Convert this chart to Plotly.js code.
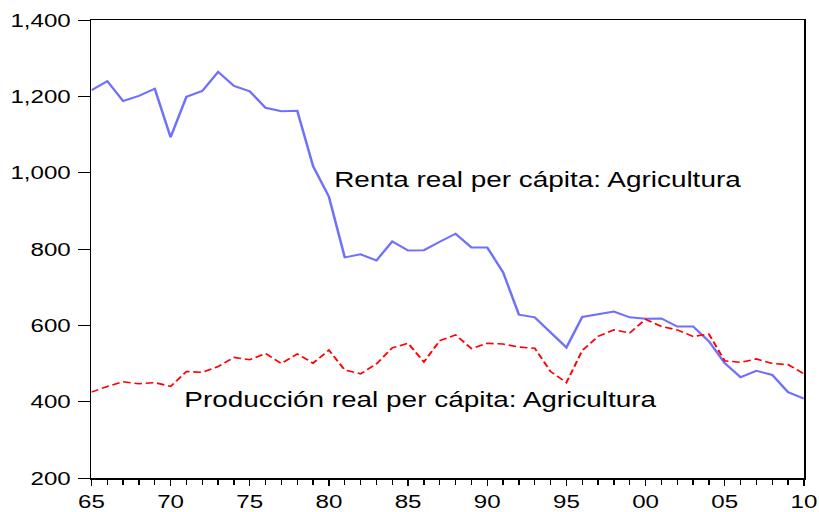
<!DOCTYPE html>
<html><head><meta charset="utf-8">
<script src="https://cdn.plot.ly/plotly-3.0.1.min.js"></script>
<style>
html,body{margin:0;padding:0;background:#fff;overflow:hidden}
#wrap{width:819px;height:512px;overflow:hidden}
#chart{width:645px;height:512px;transform:scaleX(1.27);transform-origin:0 0}
</style>
</head><body><div id="wrap"><div id="chart"></div></div>
<script>
const years = [1965,1966,1967,1968,1969,1970,1971,1972,1973,1974,1975,1976,1977,1978,1979,1980,
  1981,1982,1983,1984,1985,1986,1987,1988,1989,1990,1991,1992,1993,1994,1995,
  1996,1997,1998,1999,2000,2001,2002,2003,2004,2005,2006,2007,2008,2009,2010];
const renta = [1216,1240,1188,1201,1220,1093,1199,1214,1264,1227,1213,1170,1161,1162,1017,937,
  778,786,770,820,796,797,819,840,804,804,739,628,621,581,542,
  622,629,636,621,617,618,597,597,558,501,464,481,470,425,408];
const produccion = [425,440,452,447,450,440,479,477,492,516,510,526,500,525,501,535,
  483,473,499,541,553,504,560,575,539,553,551,543,540,479,450,
  534,571,588,580,616,597,588,571,577,507,503,512,500,497,473];
const xTickVals = [1965,1970,1975,1980,1985,1990,1995,2000,2005,2010];
const xTickText = ["65","70","75","80","85","90","95","00","05","10"];
const yTickVals = [200,400,600,800,1000,1200,1400];
const labelRenta = "Renta real per cápita: Agricultura";
const labelProd = "Producción real per cápita: Agricultura";

const FONT = "'Liberation Sans', Arial, Helvetica, sans-serif";

const traces = [
  {x: years, y: renta, type: 'scatter', mode: 'lines', name: labelRenta,
   line: {color: 'rgb(112,112,255)', width: 2}},
  {x: years, y: produccion, type: 'scatter', mode: 'lines', name: labelProd,
   line: {color: 'rgb(255,0,0)', width: 1.6, dash: '6px,3px'}}
];

const layout = {
  width: 645, height: 512,
  margin: {l: 72, r: 12, t: 20, b: 34},
  paper_bgcolor: '#fff', plot_bgcolor: '#fff',
  showlegend: false,
  font: {family: FONT, color: '#000', size: 19},
  xaxis: {
    range: [1965, 2010], tickmode: 'array', tickvals: xTickVals, ticktext: xTickText,
    ticks: 'outside', ticklen: 6, tickwidth: 1, tickcolor: '#000',
    showline: true, linecolor: '#000', linewidth: 1.5, mirror: true,
    showgrid: false, zeroline: false,
    tickfont: {family: FONT, size: 19, color: '#000'},
    minor: {tick0: 1965, dtick: 1, ticks: 'outside', ticklen: 5, tickwidth: 1, tickcolor: '#000', showgrid: false}
  },
  yaxis: {
    range: [200, 1400], tickmode: 'array', tickvals: yTickVals, tickformat: ',',
    ticks: 'outside', ticklen: 9, tickwidth: 1, tickcolor: '#000',
    ticklabelstandoff: 2,
    showline: true, linecolor: '#000', linewidth: 1.5, mirror: true,
    showgrid: false, zeroline: false,
    tickfont: {family: FONT, size: 19, color: '#000'}
  },
  annotations: [
    {x: 1980.2, y: 983, xref: 'x', yref: 'y', text: labelRenta, showarrow: false,
     xanchor: 'left', yanchor: 'middle', font: {family: FONT, size: 22, color: '#000'}},
    {x: 1970.7, y: 407, xref: 'x', yref: 'y', text: labelProd, showarrow: false,
     xanchor: 'left', yanchor: 'middle', font: {family: FONT, size: 22, color: '#000'}}
  ]
};

Plotly.newPlot('chart', traces, layout, {staticPlot: true, displayModeBar: false});
</script>
</body></html>
